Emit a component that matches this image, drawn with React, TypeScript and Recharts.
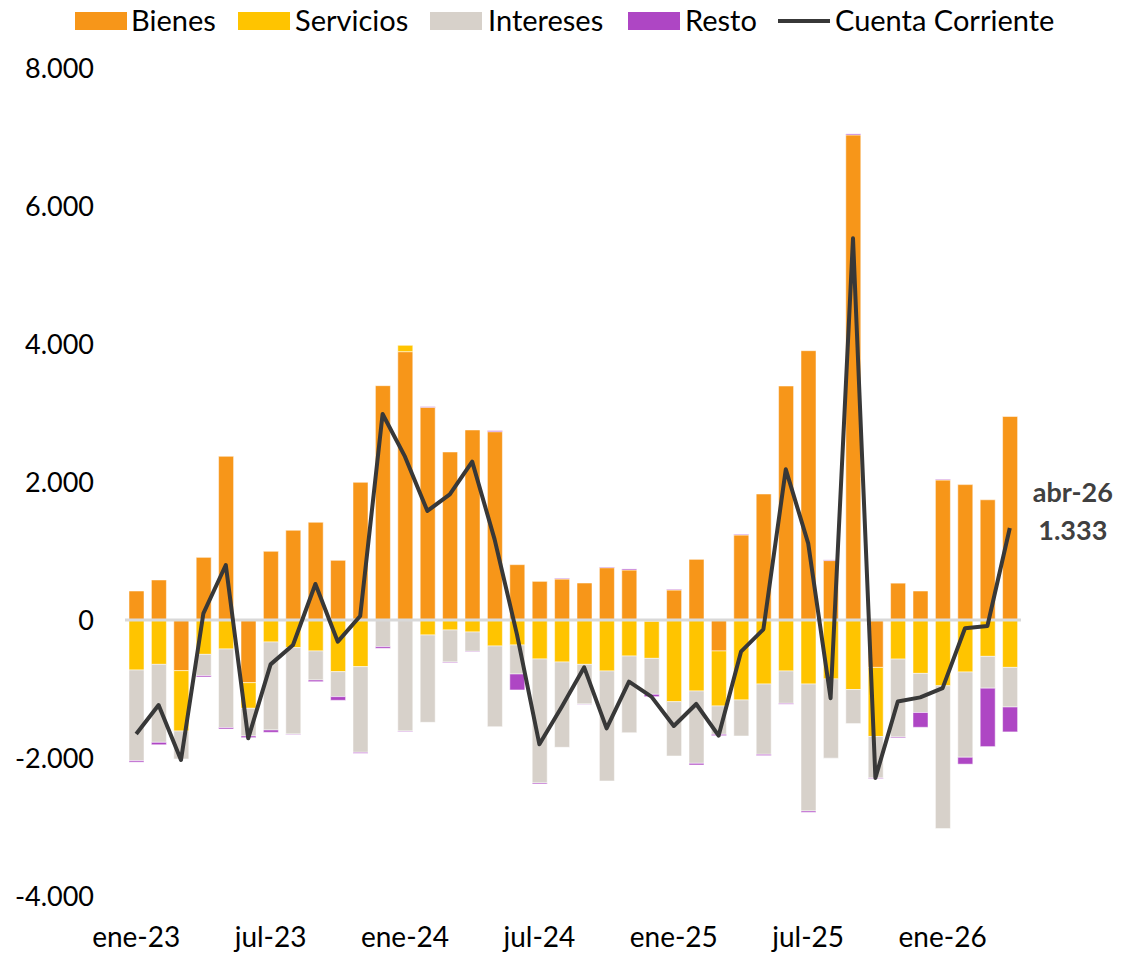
import React from 'react';
import { ComposedChart, Bar, Line, XAxis, YAxis, ReferenceLine, LabelList } from 'recharts';

const months = [
  'ene-23', 'feb-23', 'mar-23', 'abr-23', 'may-23', 'jun-23', 'jul-23', 'ago-23', 'sep-23', 'oct-23', 'nov-23', 'dic-23',
  'ene-24', 'feb-24', 'mar-24', 'abr-24', 'may-24', 'jun-24', 'jul-24', 'ago-24', 'sep-24', 'oct-24', 'nov-24', 'dic-24',
  'ene-25', 'feb-25', 'mar-25', 'abr-25', 'may-25', 'jun-25', 'jul-25', 'ago-25', 'sep-25', 'oct-25', 'nov-25', 'dic-25',
  'ene-26', 'feb-26', 'mar-26', 'abr-26',
];

const bienes = [
  420, 580, -734, 908, 2372, -908, 995, 1300, 1416, 865, 1995, 3396,
  3889, 3082, 2435, 2754, 2729, 802, 560, 594, 536, 758, 725, -20,
  435, 879, -449, 1232, 1826, 3391, 3903, 861, 7030, -687, 534, 420,
  2029, 1962, 1742, 2949,
];

const servicios = [
  -725, -643, -875, -498, -420, -372, -319, -401, -449, -749, -676, 0,
  92, -217, -145, -174, -377, -362, -565, -609, -643, -739, -522, -536,
  -1184, -1029, -797, -1159, -928, -739, -928, -854, -1008, -1001, -567, -774,
  -954, -754, -527, -687,
];

const intereses = [
  -1315, -1130, -405, -309, -1140, -401, -1275, -1251, -421, -362, -1242, -386,
  -1609, -1266, -464, -280, -1169, -421, -1797, -1236, -574, -1594, -1111, -521,
  -787, -1048, -411, -522, -1019, -469, -1840, -1148, -493, -601, -1128, -567,
  -2069, -1235, -461, -574,
];

const resto = [
  -20, -35, 0, -19, -20, -24, -34, -8, -24, -53, -14, -24,
  -9, 10, -10, -8, 15, -231, -15, 10, -5, 10, 15, -34,
  10, -24, -19, 10, -18, -12, -19, 10, 15, -10, -13, -214,
  10, -100, -847, -361,
];

const cuentaCorriente = [
  -1652, -1232, -2029, 97, 797, -1715, -643, -362, 522, -314, 58, 2986,
  2367, 1580, 1821, 2295, 1169, -212, -1802, -1256, -686, -1570, -894, -1111,
  -1536, -1217, -1676, -459, -135, 2184, 1111, -1134, 5532, -2289, -1181, -1121,
  -988, -120, -87, 1333,
];

const yTicks = [-4000, -2000, 0, 2000, 4000, 6000, 8000];

const data = months.map((m, i) => ({
  month: m,
  bienes: bienes[i],
  servicios: servicios[i],
  intereses: intereses[i],
  resto: resto[i],
  cuenta: cuentaCorriente[i],
}));

const COLORS = {
  bienes: '#F79619',
  servicios: '#FFC400',
  intereses: '#D7D1CA',
  resto: '#AE46C4',
  line: '#383838',
};

const fmt = (v: number) => {
  const s = Math.abs(Math.round(v)).toString().replace(/\B(?=(\d{3})+(?!\d))/g, '.');
  return (v < 0 ? '-' : '') + s;
};

const FONT = 'Lato, "Open Sans", sans-serif';

const legendItems = [
  { name: 'Bienes', color: COLORS.bienes, type: 'box', sx: 75, tx: 131 },
  { name: 'Servicios', color: COLORS.servicios, type: 'box', sx: 238, tx: 295 },
  { name: 'Intereses', color: COLORS.intereses, type: 'box', sx: 430, tx: 488 },
  { name: 'Resto', color: COLORS.resto, type: 'box', sx: 628, tx: 685 },
  { name: 'Cuenta Corriente', color: COLORS.line, type: 'line', sx: 778, tx: 835 },
];

const LastLabel = (props: any) => {
  const { x, y, index, value } = props;
  if (!(index === data.length - 1 || value === cuentaCorriente[cuentaCorriente.length - 1])) return null;
  if (x == null || y == null) return null;
  const cx = x + 63;
  return (
    <g>
      <text x={cx} y={y - 35} dy="0.35em" textAnchor="middle" fontFamily={FONT} fontWeight={700} fontSize={27} fill="#404040">
        {months[months.length - 1]}
      </text>
      <text x={cx} y={y + 3} dy="0.35em" textAnchor="middle" fontFamily={FONT} fontWeight={700} fontSize={27} fill="#404040">
        {fmt(value)}
      </text>
    </g>
  );
};

export default function App() {
  return (
    <div style={{ position: 'relative', width: 1125, height: 954, background: '#fff' }}>
      <style>{'body{margin:0;background:#fff;}'}</style>
      <div style={{ position: 'absolute', left: 0, top: 0, width: 1125, height: 50, fontFamily: FONT, fontSize: 29, color: '#000' }}>
        {legendItems.map((it) => (
          <React.Fragment key={it.name}>
            {it.type === 'box' ? (
              <div style={{ position: 'absolute', left: it.sx, top: 12, width: 52, height: 18, background: it.color }} />
            ) : (
              <div style={{ position: 'absolute', left: it.sx, top: 19, width: 52, height: 4, background: it.color }} />
            )}
            <div style={{ position: 'absolute', left: it.tx, top: 2, lineHeight: '36px', whiteSpace: 'nowrap' }}>{it.name}</div>
          </React.Fragment>
        ))}
      </div>
      <ComposedChart
        width={1125}
        height={954}
        data={data}
        stackOffset="sign"
        margin={{ top: 68, right: 104, bottom: 0, left: 25 }}
        barSize={15}
      >
        <XAxis
          dataKey="month"
          interval={5}
          axisLine={false}
          tickLine={false}
          tickMargin={25}
          height={58}
          tick={{ fontFamily: FONT, fontSize: 28, fill: '#000' }}
        />
        <YAxis
          domain={[-4000, 8000]}
          ticks={yTicks}
          axisLine={false}
          tickLine={false}
          tickMargin={25}
          width={100}
          tickFormatter={fmt}
          tick={{ fontFamily: FONT, fontSize: 27, fill: '#000' }}
          allowDataOverflow
        />
        <ReferenceLine y={0} stroke="#D9D9D9" strokeWidth={3} />
        <Bar dataKey="bienes" stackId="a" fill={COLORS.bienes} stroke="rgba(255,255,255,0.5)" strokeWidth={1} isAnimationActive={false} />
        <Bar dataKey="servicios" stackId="a" fill={COLORS.servicios} stroke="rgba(255,255,255,0.5)" strokeWidth={1} isAnimationActive={false} />
        <Bar dataKey="intereses" stackId="a" fill={COLORS.intereses} stroke="rgba(255,255,255,0.5)" strokeWidth={1} isAnimationActive={false} />
        <Bar dataKey="resto" stackId="a" fill={COLORS.resto} stroke="rgba(255,255,255,0.5)" strokeWidth={1} isAnimationActive={false} />
        <Line
          type="linear"
          dataKey="cuenta"
          stroke={COLORS.line}
          strokeWidth={4}
          dot={false}
          activeDot={false}
          strokeLinejoin="round"
          isAnimationActive={false}
        >
          <LabelList dataKey="cuenta" content={<LastLabel />} />
        </Line>
      </ComposedChart>
    </div>
  );
}
